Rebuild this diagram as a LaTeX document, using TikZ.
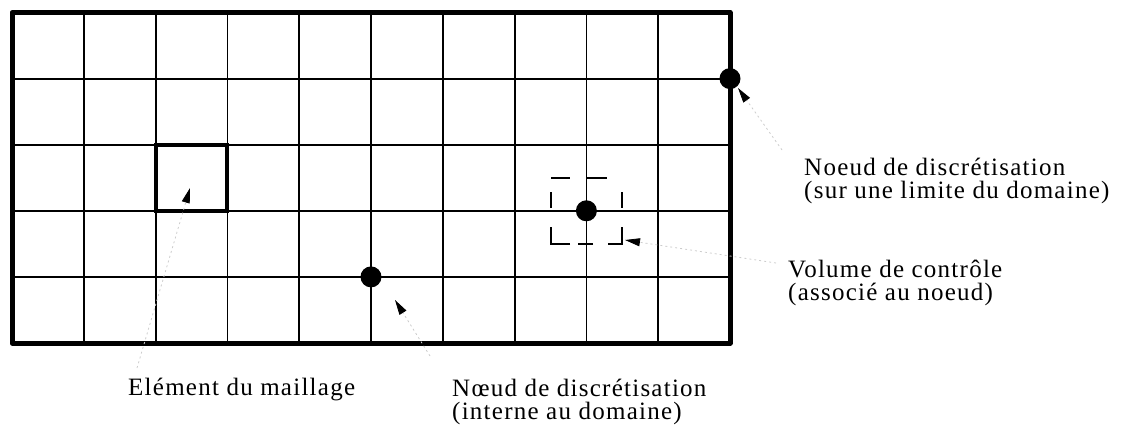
\documentclass[tikz,border=0pt]{standalone}
\usepackage{fontspec}
\setmainfont{Liberation Serif}[LetterSpace=5]
\usetikzlibrary{arrows.meta}
\begin{document}
\begin{tikzpicture}[x=1pt,y=-1pt,
  gridline/.style={line width=1.8pt},
  border/.style={line width=5pt, line join=round},
  elem/.style={line width=4pt},
  dot/.style={circle, fill=black, inner sep=0pt, minimum size=21pt},
  lbl/.style={anchor=base west, align=left, inner sep=0pt, font=\fontsize{25}{23}\selectfont},
  leader/.style={gray!40, line width=0.8pt, dash pattern=on 2pt off 3pt,
    -{Triangle[length=15pt,width=8pt,color=black]}},
  cvline/.style={line width=1.8pt}]
\useasboundingbox (0,0) rectangle (1134,426);
% grid
\foreach \k in {1,...,9}
  \draw[gridline] ({12+71.8*\k},12.5) -- ({12+71.8*\k},343);
\foreach \k in {1,...,4}
  \draw[gridline] (12,{12.5+66.1*\k}) -- (730,{12.5+66.1*\k});
\draw[border] (12,12.5) rectangle (730,343);
% mesh element
\draw[elem] (155.6,144.7) rectangle (227.4,210.8);
% control volume (dashed square)
\draw[cvline] (551,178) -- (570,178) (586,178) -- (607,178);
\draw[cvline] (622,192) -- (622,208) (622,227) -- (622,244) -- (608,244);
\draw[cvline] (593,244) -- (578,244) (570,244) -- (551,244) -- (551,227);
\draw[cvline] (551,208) -- (551,192);
% nodes
\node[dot] (nb) at (730,78.6) {};
\node[dot] (nc) at (586.4,210.8) {};
\node[dot] (ni) at (371,276.9) {};
% labels (base anchor = baseline of the last line)
\node[lbl] (lb) at (804,198) {Noeud de discrétisation\\(sur une limite du domaine)};
\node[lbl] (lv) at (788,300) {Volume de contrôle\\(associé au noeud)};
\node[lbl] (li) at (452,419) {Nœud de discrétisation\\(interne au domaine)};
\node[lbl] (le) at (128,395) {Elément du maillage};
% leaders
\coordinate (bt) at (738,88);   \coordinate (bs) at (782,150);
\coordinate (et) at (190,188);  \coordinate (es) at (137,368);
\coordinate (it) at (395,300);  \coordinate (is) at (430,356);
\coordinate (vt) at (625,240);  \coordinate (vs) at (776,263);
\draw[leader] (bs) -- (bt);
\draw[leader] (es) -- (et);
\draw[leader] (is) -- (it);
\draw[leader] (vs) -- (vt);
\end{tikzpicture}
\end{document}
